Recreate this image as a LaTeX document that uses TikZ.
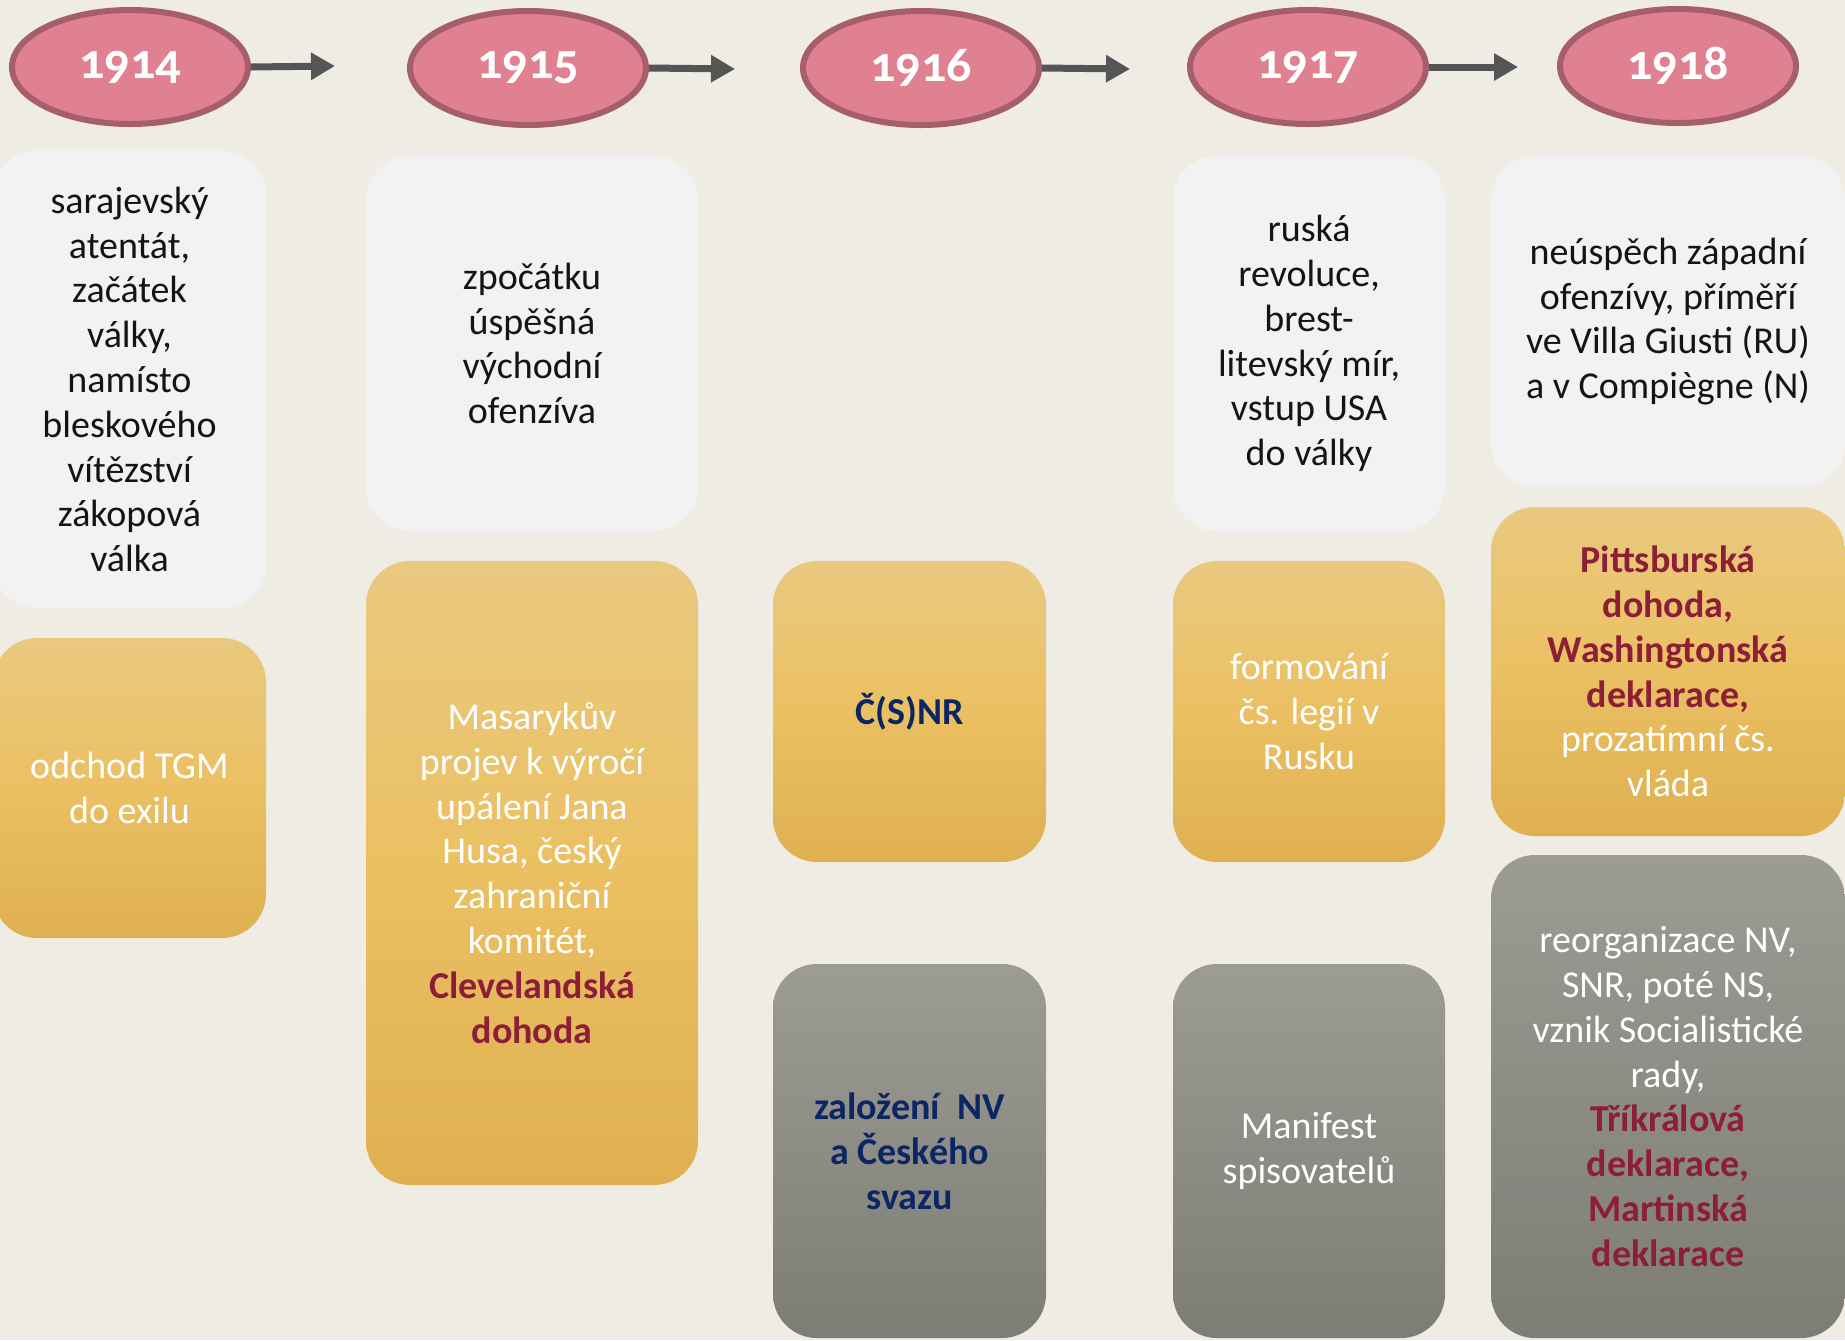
\documentclass[tikz,border=0pt]{standalone}
\usepackage{fontspec}
\setmainfont{Carlito}
\newfontfamily\yearfont[Numbers=OldStyle]{Carlito}
\usetikzlibrary{arrows.meta,shapes.geometric}
\definecolor{bg}{RGB}{239,236,227}
\definecolor{pinkfill}{RGB}{224,129,145}
\definecolor{pinkline}{RGB}{166,94,106}
\definecolor{arrowgray}{RGB}{85,85,85}
\definecolor{boxwhite}{RGB}{242,242,242}
\definecolor{goldtop}{RGB}{233,201,128}
\definecolor{goldmid}{RGB}{235,192,98}
\definecolor{goldbot}{RGB}{222,176,82}
\definecolor{graytop}{RGB}{156,156,149}
\definecolor{graybot}{RGB}{125,125,118}
\definecolor{darkred}{RGB}{140,30,55}
\definecolor{navy}{RGB}{12,38,100}
\definecolor{bodyblack}{RGB}{20,20,20}
\newcommand{\hl}[1]{\textbf{\textcolor{darkred}{#1}}}
\begin{document}
\begin{tikzpicture}[x=0.5pt,y=-0.5pt,
  year/.style={ellipse, fill=pinkfill, draw=pinkline, line width=3pt,
    minimum width=118pt, minimum height=57pt, inner sep=0pt,
    text=white, font=\yearfont\fontsize{25}{30}\selectfont\bfseries},
  conn/.style={draw=arrowgray, line width=3.5pt, -{Triangle[length=12pt,width=13pt]}},
  card/.style={rounded corners=22pt, align=center, inner sep=0pt,
    font=\fontsize{19}{22.4}\selectfont},
  whitecard/.style={card, fill=boxwhite, text=bodyblack},
  goldcard/.style={card, top color=goldtop, bottom color=goldbot, middle color=goldmid, text=white},
  graycard/.style={card, top color=graytop, bottom color=graybot, text=white}
]
\path[fill=bg] (0,0) rectangle (1845,1340);
\useasboundingbox (0,0) rectangle (1845,1340);

% years
\node[year] (y14) at (130,67) {1914};
\node[year] (y15) at (528,68) {1915};
\node[year] (y16) at (921,68) {1916};
\node[year] (y17) at (1308,67) {1917};
\node[year] (y18) at (1678,66) {1918};

\coordinate (a14) at (335,66);
\coordinate (a15) at (735,69);
\coordinate (a16) at (1130,69);
\coordinate (a17) at (1518,67);
\draw[conn] (y14.east) -- (a14);
\draw[conn] (y15.east) -- (a15);
\draw[conn] (y16.east) -- (a16);
\draw[conn] (y17.east) -- (a17);

% column 1914
\node[whitecard, minimum width=136.5pt, minimum height=228.5pt] (w14) at (129.5,379.5)
 {sarajevský\\atentát,\\začátek\\války,\\namísto\\bleskového\\vítězství\\zákopová\\válka};
\node[goldcard, minimum width=136.5pt, minimum height=150pt] (g14) at (129.5,788)
 {odchod TGM\\do exilu};

% column 1915
\node[whitecard, minimum width=166pt, minimum height=187.5pt] (w15) at (532,343.5)
 {zpočátku\\úspěšná\\východní\\ofenzíva};
\node[goldcard, minimum width=166pt, minimum height=312pt] (g15) at (532,873)
 {Masarykův\\projev k výročí\\upálení Jana\\Husa, český\\zahraniční\\komitét,\\\hl{Clevelandská}\\\hl{dohoda}};

% column 1916
\node[goldcard, minimum width=136.5pt, minimum height=150.5pt] (g16) at (909.5,711.5)
 {\textbf{\textcolor{navy}{Č(S)NR}}};
\node[graycard, minimum width=136.5pt, minimum height=187pt] (s16) at (909.5,1151)
 {\textbf{\textcolor{navy}{založení\ \ NV}}\\\textbf{\textcolor{navy}{a Českého}}\\\textbf{\textcolor{navy}{svazu}}};

% column 1917
\node[whitecard, minimum width=136pt, minimum height=187.5pt] (w17) at (1309,343.5)
 {ruská\\revoluce,\\brest-\\litevský mír,\\vstup USA\\do války};
\node[goldcard, minimum width=136pt, minimum height=150.5pt] (g17) at (1309,711.5)
 {formování\\čs. legií v\\Rusku};
\node[graycard, minimum width=136pt, minimum height=187pt] (s17) at (1309,1151)
 {Manifest\\spisovatelů};

% column 1918
\node[whitecard, minimum width=177pt, minimum height=165.5pt] (w18) at (1668,321.5)
 {neúspěch západní\\ofenzívy, příměří\\ve Villa Giusti (RU)\\a v Compiègne (N)};
\node[goldcard, minimum width=177pt, minimum height=164.5pt] (g18) at (1668,671.5)
 {\hl{Pittsburská}\\\hl{dohoda,}\\\hl{Washingtonská}\\\hl{deklarace,}\\prozatímní čs.\\vláda};
\node[graycard, minimum width=177pt, minimum height=241.5pt] (s18) at (1668,1096.5)
 {reorganizace NV,\\SNR, poté NS,\\vznik Socialistické\\rady,\\\hl{Tříkrálová}\\\hl{deklarace,}\\\hl{Martinská}\\\hl{deklarace}};
\end{tikzpicture}
\end{document}
